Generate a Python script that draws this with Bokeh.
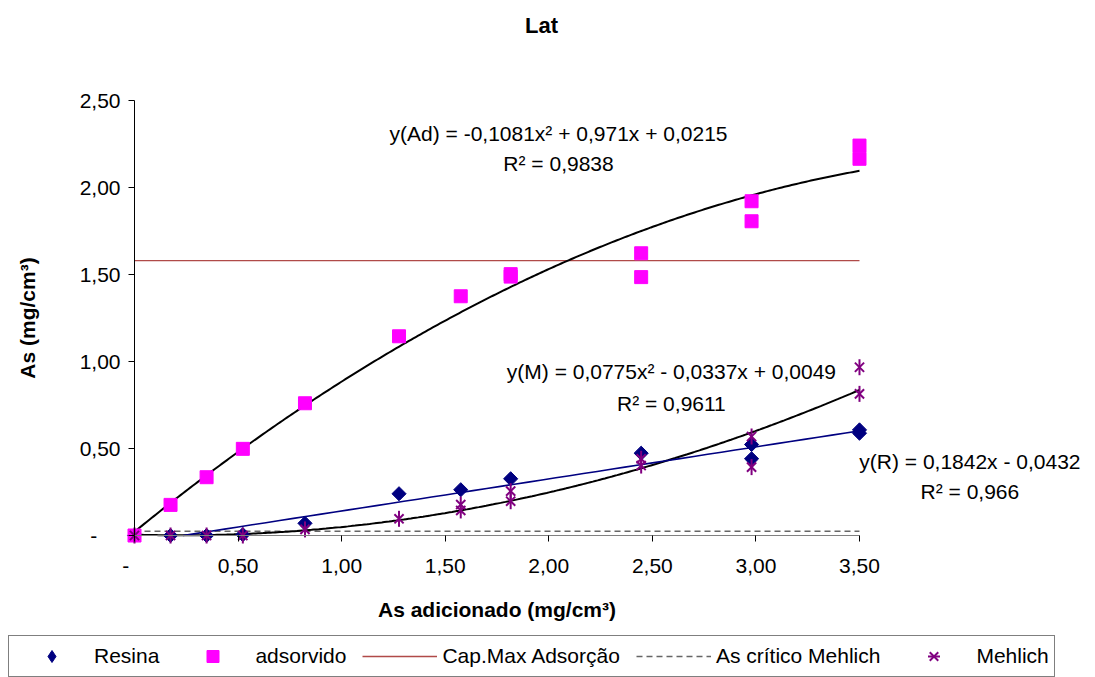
import numpy as np
from bokeh.plotting import figure
from bokeh.models import Range1d, FixedTicker, Label, Legend, LegendItem
from bokeh.embed import file_html
from bokeh.resources import INLINE

# ---- data -------------------------------------------------------------
# Resina (resin-extracted As)
resina_x = [0, 0.174, 0.348, 0.523, 0.823, 1.277, 1.575, 1.816, 2.446, 2.979, 2.979, 3.5, 3.5]
resina_y = [0, 0, 0, 0.005, 0.07, 0.24, 0.263, 0.326, 0.473, 0.523, 0.441, 0.607, 0.588]

# adsorvido (adsorbed As)
ads_x = [0, 0.174, 0.348, 0.523, 0.823, 1.277, 1.575, 1.816, 1.816, 2.446, 2.446, 2.979, 2.979, 3.5, 3.5]
ads_y = [0, 0.176, 0.335, 0.498, 0.76, 1.145, 1.375, 1.502, 1.488, 1.622, 1.485, 1.921, 1.806, 2.241, 2.165]

# Mehlich-extracted As
meh_x = [0, 0.174, 0.348, 0.523, 0.823, 1.277, 1.575, 1.575, 1.816, 1.816, 2.446, 2.446, 2.979, 2.979, 3.5, 3.5]
meh_y = [0, 0, 0, 0, 0.035, 0.096, 0.178, 0.144, 0.255, 0.197, 0.441, 0.402, 0.569, 0.393, 0.967, 0.814]

# reference levels
ref_x = [0, 3.5]
cap_max = [1.58, 1.58]
critico = [0.025, 0.025]

# fitted trend coefficients (highest power first)
coef_ad = [-0.1081, 0.971, 0.0215]
coef_m = [0.0775, -0.0337, 0.0049]
coef_r = [0.1842, -0.0432]

eq_ad = ["y(Ad) = -0,1081x² + 0,971x + 0,0215", "R² = 0,9838"]
eq_m = ["y(M) = 0,0775x² - 0,0337x + 0,0049", "R² = 0,9611"]
eq_r = ["y(R) = 0,1842x - 0,0432", "R² = 0,966"]

NB = "\u00a0"
x_ticks = [0, 0.5, 1.0, 1.5, 2.0, 2.5, 3.0, 3.5]
x_tick_labels = ["-" + NB * 3, "0,50", "1,00", "1,50", "2,00", "2,50", "3,00", "3,50"]
y_ticks = [0, 0.5, 1.0, 1.5, 2.0, 2.5]
y_tick_labels = ["-" + NB * 4, "0,50", "1,00", "1,50", "2,00", "2,50"]

# ---- figure -----------------------------------------------------------
W, H = 1095, 677
PX_X = 207.14          # pixels per unit on x
PX_Y = 174.0           # pixels per unit on y
ORIG_X, ORIG_Y = 134, 535   # canvas position of (0, 0), from top-left

x0 = -ORIG_X / PX_X
x1 = (W - ORIG_X) / PX_X
y0 = -(H - ORIG_Y) / PX_Y
y1 = ORIG_Y / PX_Y

FONT = "Liberation Sans"

p = figure(width=W, height=H, output_backend="svg", toolbar_location=None,
           x_range=Range1d(x0, x1), y_range=Range1d(y0, y1),
           min_border=0, outline_line_color=None, background_fill_color="white")
p.grid.visible = False

# axes
for ax in p.xaxis:
    ax.fixed_location = 0
    ax.bounds = (0, 3.5)
    ax.ticker = FixedTicker(ticks=x_ticks)
    ax.major_label_overrides = {t: l for t, l in zip(x_ticks, x_tick_labels)}
    ax.minor_tick_line_color = None
    ax.major_tick_out = 6
    ax.major_tick_in = 0
    ax.axis_line_color = "#808080"
    ax.major_tick_line_color = "black"
    ax.major_label_standoff = 12
    ax.major_label_text_font = FONT
    ax.major_label_text_font_size = "21px"
    ax.major_label_text_color = "black"
    ax.axis_label = "As adicionado (mg/cm³)"
    ax.axis_label_text_font = FONT
    ax.axis_label_text_font_size = "21px"
    ax.axis_label_text_font_style = "bold"
    ax.axis_label_text_color = "black"
    ax.axis_label_standoff = 18

for ax in p.yaxis:
    ax.fixed_location = 0
    ax.bounds = (0, 2.5)
    ax.ticker = FixedTicker(ticks=y_ticks)
    ax.major_label_overrides = {t: l for t, l in zip(y_ticks, y_tick_labels)}
    ax.minor_tick_line_color = None
    ax.major_tick_out = 6
    ax.major_tick_in = 0
    ax.axis_line_color = "black"
    ax.major_tick_line_color = "black"
    ax.major_label_standoff = 8
    ax.major_label_text_font = FONT
    ax.major_label_text_font_size = "21px"
    ax.major_label_text_color = "black"
    ax.axis_label = "As (mg/cm³)"
    ax.axis_label_text_font = FONT
    ax.axis_label_text_font_size = "21px"
    ax.axis_label_text_font_style = "bold"
    ax.axis_label_text_color = "black"
    ax.axis_label_standoff = 38

# reference lines
r_cap = p.line(ref_x, cap_max, line_color="#B04A48", line_width=1.4)
r_crit = p.line(ref_x, critico, line_color="#666666", line_width=1.5, line_dash="6 4")

# trend lines from fitted coefficients
xs = np.linspace(0, 3.5, 300)
p.line(xs, np.polyval(coef_ad, xs), line_color="black", line_width=2)
p.line(xs, np.polyval(coef_m, xs), line_color="black", line_width=2)
xr0 = -coef_r[1] / coef_r[0]          # visible from where the fit crosses zero
xr = np.linspace(xr0, 3.5, 50)
p.line(xr, np.polyval(coef_r, xr), line_color="#000080", line_width=1.6)

# data markers: resin points as rotated squares, the origin point also as a
# plain diamond so the legend key shows a diamond shape
r_res = p.scatter(resina_x, resina_y, marker="square", size=10, angle=np.pi / 4,
                  fill_color="#000080", line_color="#000080")
r_res_key = p.scatter(resina_x[:1], resina_y[:1], marker="diamond", size=14,
                      fill_color="#000080", line_color="#000080")
r_ads = p.scatter(ads_x, ads_y, marker="square", size=13, fill_color="#FF00FF",
                  line_color="#FF00FF")
r_meh1 = p.scatter(meh_x, meh_y, marker="x", size=13, line_color="#800080", line_width=2)
r_meh2 = p.scatter(meh_x, meh_y, marker="dash", size=16, angle=np.pi / 2,
                   line_color="#800080", line_width=2)

# trend equations
def eq_labels(lines, x, y_top, y_bot):
    for txt, yy in zip(lines, (y_top, y_bot)):
        p.add_layout(Label(x=x, y=yy, text=txt, text_align="center", text_baseline="middle",
                           text_font=FONT, text_font_size="21px", text_color="black"))

eq_labels(eq_ad, 2.047, 2.310, 2.138)
eq_labels(eq_m, 2.592, 0.943, 0.759)
eq_labels(eq_r, 4.033, 0.425, 0.253)

# title
p.add_layout(Label(x=541, y=H - 25, x_units="screen", y_units="screen", text="Lat",
                   text_align="center", text_baseline="middle", text_font=FONT,
                   text_font_size="22px", text_font_style="bold", text_color="black"))

# legend
legend = Legend(items=[
    LegendItem(label="Resina", renderers=[r_res_key]),
    LegendItem(label="adsorvido", renderers=[r_ads]),
    LegendItem(label="Cap.Max Adsorção", renderers=[r_cap]),
    LegendItem(label="As crítico Mehlich", renderers=[r_crit]),
    LegendItem(label="Mehlich", renderers=[r_meh1, r_meh2]),
], location=(8, 0), orientation="horizontal", glyph_width=75, glyph_height=30,
    label_standoff=5, spacing=16, padding=5, margin=0,
    border_line_color="black", border_line_width=1,
    background_fill_color="white", background_fill_alpha=1,
    label_text_font=FONT, label_text_font_size="21px", label_text_color="black")
p.add_layout(legend, "center")

open("out.html", "w").write(file_html(p, INLINE))
